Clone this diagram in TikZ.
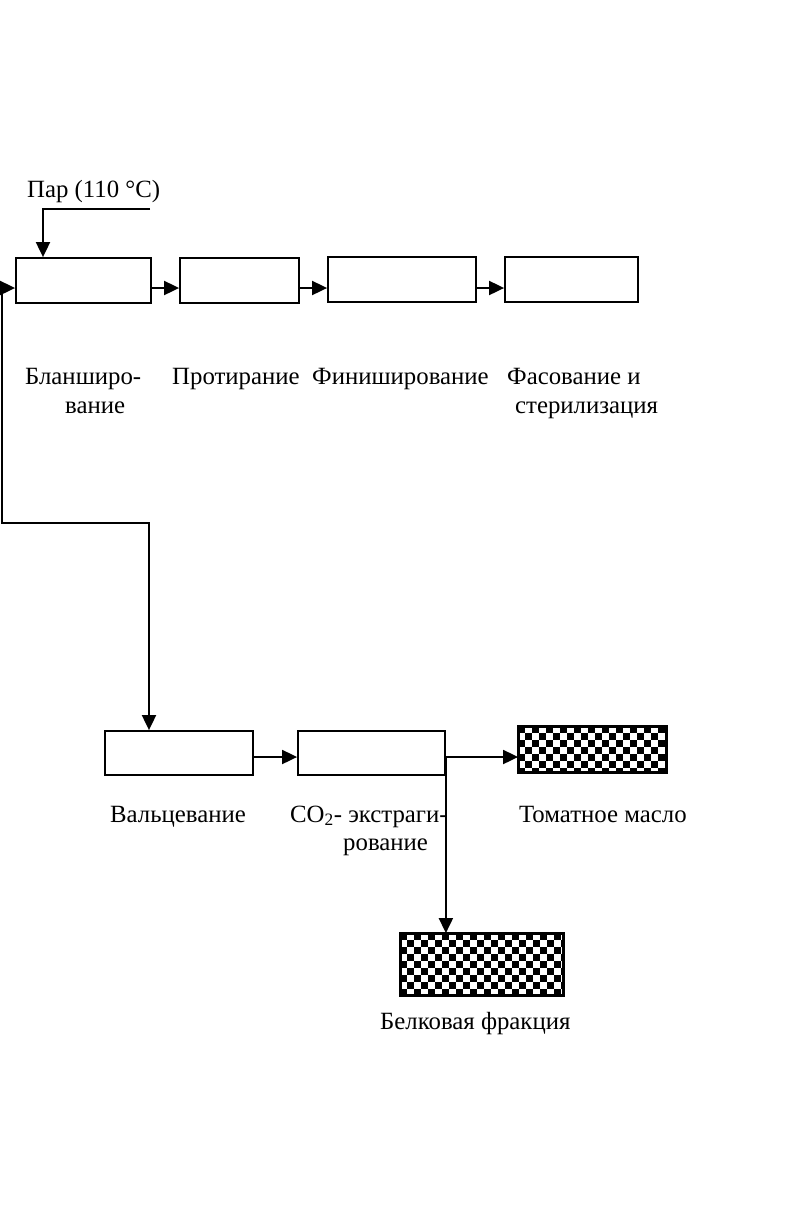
\documentclass[tikz,border=0pt]{standalone}
\usepackage{fontspec}
\setmainfont{Liberation Serif}
\usetikzlibrary{arrows.meta}
\newcommand\chkfill[3]{% node, cols, rows
  \begin{scope}
    \clip (#1.south west) rectangle (#1.north east);
    \foreach \i in {0,...,#2}{\foreach \j in {0,...,#3}{%
      \pgfmathtruncatemacro\kk{mod(\i+\j,2)}%
      \ifnum\kk=0 \fill[black,shift={(#1.north west)}] (\i*7,\j*7) rectangle ++(7,7);\fi}}
  \end{scope}
  \draw[procline] (#1.south west) rectangle (#1.north east);}
\begin{document}
\begin{tikzpicture}[x=1pt,y=-1pt,
  procline/.style={line width=1.8pt},
  procbox/.style={draw,line width=1.8pt,inner sep=0pt,minimum height=45pt},
  arr/.style={line width=1.9pt,-{Triangle[length=15pt,width=14pt]}},
  lbl/.style={anchor=base west,inner sep=0pt,font=\fontsize{24.8}{29}\selectfont}]
\useasboundingbox (0,0) rectangle (801,1219);
% top row
\node[procbox,minimum width=135pt] (b1) at (83.5,280.5) {};
\node[procbox,minimum width=119pt] (b2) at (239.5,280.5) {};
\node[procbox,minimum width=148pt] (b3) at (402,279.5) {};
\node[procbox,minimum width=133pt] (b4) at (571.5,279.5) {};
% bottom row
\node[procbox,minimum width=148pt,minimum height=44pt] (b5) at (179,753) {};
\node[procbox,minimum width=147pt,minimum height=44pt] (b6) at (371.5,753) {};
\node[procbox,minimum width=147pt] (b7) at (592.5,749.5) {};
\node[procbox,minimum width=162pt,minimum height=61pt] (b8) at (482,964.5) {};
\chkfill{b7}{21}{7}
\chkfill{b8}{23}{9}
% connectors
\coordinate (r1) at (0,288);
\coordinate (j1) at (2,288);
\coordinate (j2) at (2,523);
\coordinate (steam) at (150,209);
\draw[arr] (r1) -- (r1 -| b1.west);
\draw[arr] (r1 -| b1.east) -- (r1 -| b2.west);
\draw[arr] (r1 -| b2.east) -- (r1 -| b3.west);
\draw[arr] (r1 -| b3.east) -- (r1 -| b4.west);
\draw[arr] (steam) -| ([xshift=-40.5pt]b1.north);
\draw[arr] (j1) -- (j2) -| ([xshift=-30pt]b5.north);
\coordinate (j3) at ([yshift=-4pt]b6.east);
\draw[arr] ([yshift=-4pt]b5.east) -- ([yshift=-4pt]b6.west);
\draw[arr] (j3) -- (j3 -| b7.west);
\draw[arr] (j3) -- (j3 |- b8.north);
% labels
\node[lbl] (tp) at (27,197) {Пар (110 °C)};
\node[lbl] (t1a) at (25,384) {Бланширо-};
\node[lbl] (t1b) at (65,413) {вание};
\node[lbl] (t2) at (172,384) {Протирание};
\node[lbl] (t3) at (312,384) {Финиширование};
\node[lbl] (t4a) at (507,384) {Фасование и};
\node[lbl] (t4b) at (515,413) {стерилизация};
\node[lbl] (t5) at (110,822) {Вальцевание};
\node[lbl] (t6a) at (290,822) {CO\textsubscript{2}- экстраги-};
\node[lbl] (t6b) at (343,850) {рование};
\node[lbl] (t7) at (519,822) {Томатное масло};
\node[lbl] (t8) at (380,1029) {Белковая фракция};
\end{tikzpicture}
\end{document}
